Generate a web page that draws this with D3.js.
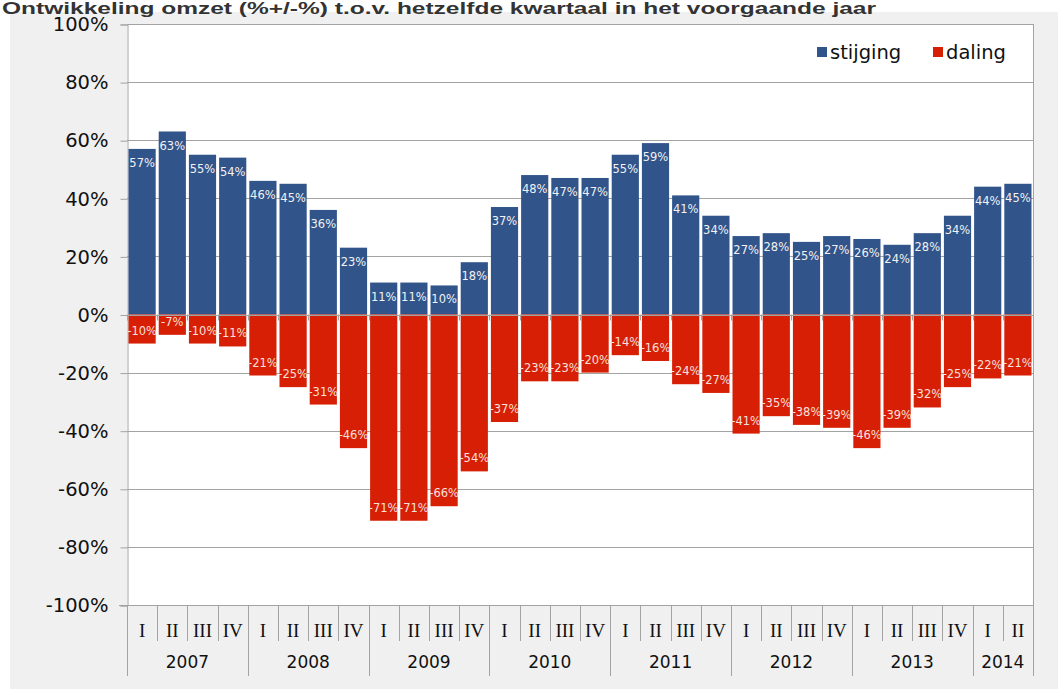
<!DOCTYPE html>
<html>
<head>
<meta charset="utf-8">
<script src="https://cdn.jsdelivr.net/npm/d3@7"></script>
<style>
  html, body { margin: 0; padding: 0; background: #ffffff; }
  svg { display: block; }
</style>
</head>
<body>
<svg id="chart" width="1058" height="689"></svg>
<script>
// ---- data ----
const quarters = ["I","II","III","IV","I","II","III","IV","I","II","III","IV","I","II","III","IV",
                  "I","II","III","IV","I","II","III","IV","I","II","III","IV","I","II"];
const years = ["2007","2008","2009","2010","2011","2012","2013","2014"];
const quartersPerYear = [4,4,4,4,4,4,4,2];
const stijging = [57,63,55,54, 46,45,36,23, 11,11,10,18, 37,48,47,47, 55,59,41,34, 27,28,25,27, 26,24,28,34, 44,45];
const daling   = [-10,-7,-10,-11, -21,-25,-31,-46, -71,-71,-66,-54, -37,-23,-23,-20, -14,-16,-24,-27, -41,-35,-38,-39, -46,-39,-32,-25, -22,-21];
const yTicks = [-100,-80,-60,-40,-20,0,20,40,60,80,100];
const seriesNames = ["stijging","daling"];
const title = "Ontwikkeling omzet (%+/-%) t.o.v. hetzelfde kwartaal in het voorgaande jaar";

// ---- layout ----
const colors = {stijging: "#31548a", daling: "#d61f05"};
const plot = {left: 127, right: 1033, top: 24, bottom: 605};
const svg = d3.select("#chart");

// background panel
svg.append("rect").attr("x", 10).attr("y", 12).attr("width", 1048).attr("height", 677).attr("fill", "#f0f0f0");
// title
svg.append("text").attr("x", 2).attr("y", 13.5)
  .attr("font-family", "Liberation Sans, Arial, sans-serif").attr("font-weight", "bold")
  .attr("font-size", 17).attr("fill", "#333")
  .attr("textLength", 874).attr("lengthAdjust", "spacingAndGlyphs")
  .text(title);

// plot area
svg.append("rect").attr("x", plot.left).attr("y", plot.top)
  .attr("width", plot.right - plot.left).attr("height", plot.bottom - plot.top).attr("fill", "#ffffff");

const idx = d3.range(quarters.length);
const x = d3.scaleBand().domain(idx).range([plot.left, plot.right]).paddingInner(0.1).paddingOuter(0.05);
const y = d3.scaleLinear().domain([-100, 100]).range([plot.bottom, plot.top]);
const step = x.step();
const gridColor = "#a3a3a3";

// gridlines
svg.append("g").selectAll("line").data(yTicks).join("line")
  .attr("x1", plot.left).attr("x2", plot.right)
  .attr("y1", d => Math.round(y(d)) + 0.5).attr("y2", d => Math.round(y(d)) + 0.5)
  .attr("stroke", gridColor).attr("stroke-width", 1);

// y axis
const yAxis = d3.axisLeft(y).tickValues(yTicks).tickSize(7).tickPadding(12).tickFormat(d => d + "%");
const yg = svg.append("g").attr("transform", `translate(${plot.left + 0.5},0.5)`).call(yAxis);
yg.select(".domain").attr("stroke", gridColor);
yg.selectAll(".tick line").attr("stroke", gridColor);
yg.selectAll(".tick text").attr("font-family", "DejaVu Sans, Verdana, sans-serif").attr("font-size", 19.5).attr("fill", "#111");

// right border
svg.append("line").attr("x1", plot.right + 0.5).attr("x2", plot.right + 0.5)
  .attr("y1", plot.top).attr("y2", plot.bottom).attr("stroke", gridColor);

// zero-line category ticks
svg.append("g").selectAll("line").data(d3.range(quarters.length + 1)).join("line")
  .attr("x1", i => Math.round(plot.left + i * step) + 0.5).attr("x2", i => Math.round(plot.left + i * step) + 0.5)
  .attr("y1", y(0)).attr("y2", y(0) + 6).attr("stroke", gridColor);

// bars
const bars = svg.append("g");
bars.selectAll("rect.up").data(stijging).join("rect").attr("class", "up")
  .attr("x", (d, i) => x(i)).attr("width", x.bandwidth())
  .attr("y", d => y(d)).attr("height", d => y(0) - y(d)).attr("fill", colors.stijging);
bars.selectAll("rect.down").data(daling).join("rect").attr("class", "down")
  .attr("x", (d, i) => x(i)).attr("width", x.bandwidth())
  .attr("y", y(0)).attr("height", d => y(d) - y(0)).attr("fill", colors.daling);

// zero line on top
svg.append("line").attr("x1", plot.left).attr("x2", plot.right)
  .attr("y1", Math.round(y(0)) + 0.5).attr("y2", Math.round(y(0)) + 0.5).attr("stroke", gridColor);

// labels
const lblFont = "DejaVu Sans, Verdana, sans-serif";
svg.append("g").selectAll("text").data(stijging).join("text")
  .attr("x", (d, i) => x(i) + x.bandwidth() / 2).attr("y", d => y(d) + 14).attr("dy", "0.35em")
  .attr("text-anchor", "middle").attr("font-family", lblFont).attr("font-size", 11.5).attr("fill", "#f2f2f2")
  .text(d => d + "%");
svg.append("g").selectAll("text").data(daling).join("text")
  .attr("x", (d, i) => x(i) + x.bandwidth() / 2).attr("y", d => y(d) - 13).attr("dy", "0.35em")
  .attr("text-anchor", "middle").attr("font-family", lblFont).attr("font-size", 11.5).attr("fill", "#f6e0dc")
  .text(d => d + "%");

// category axis (two levels)
svg.append("line").attr("x1", plot.left - 8).attr("x2", plot.right)
  .attr("y1", plot.bottom + 0.5).attr("y2", plot.bottom + 0.5).attr("stroke", gridColor);
const yearStarts = [];
let acc = 0;
quartersPerYear.forEach(n => { yearStarts.push(acc); acc += n; });
yearStarts.push(acc);
const yearSet = new Set(yearStarts);
svg.append("g").selectAll("line").data(d3.range(quarters.length + 1)).join("line")
  .attr("x1", i => Math.round(plot.left + i * step) + 0.5).attr("x2", i => Math.round(plot.left + i * step) + 0.5)
  .attr("y1", plot.bottom).attr("y2", i => yearSet.has(i) ? 676 : 641)
  .attr("stroke", gridColor);
svg.append("g").selectAll("text").data(quarters).join("text")
  .attr("x", (d, i) => x(i) + x.bandwidth() / 2).attr("y", 630).attr("dy", "0.35em")
  .attr("text-anchor", "middle").attr("font-family", "Liberation Serif, Times New Roman, serif")
  .attr("font-size", 19).attr("fill", "#111").text(d => d);
svg.append("g").selectAll("text").data(years).join("text")
  .attr("x", (d, i) => plot.left + (yearStarts[i] + quartersPerYear[i] / 2) * step).attr("y", 662).attr("dy", "0.35em")
  .attr("text-anchor", "middle").attr("font-family", "DejaVu Sans, Verdana, sans-serif")
  .attr("font-size", 17).attr("fill", "#111").text(d => d);

// legend
const legX = [817, 933];
const lg = svg.append("g");
seriesNames.forEach((s, i) => {
  lg.append("rect").attr("x", legX[i]).attr("y", 47).attr("width", 10).attr("height", 10).attr("fill", colors[s]);
  lg.append("text").attr("x", legX[i] + 13).attr("y", 52).attr("dy", "0.35em")
    .attr("font-family", "DejaVu Sans, Verdana, sans-serif").attr("font-size", 19.5).attr("fill", "#111").text(s);
});
</script>
</body>
</html>
